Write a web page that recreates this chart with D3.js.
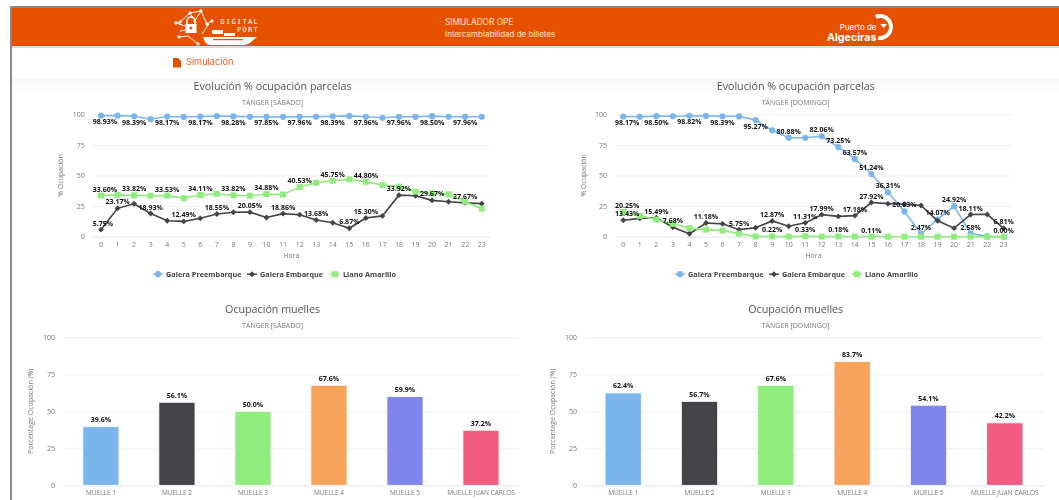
<!DOCTYPE html>
<html>
<head>
<meta charset="utf-8">
<script src="https://cdn.jsdelivr.net/npm/d3@7/dist/d3.min.js"></script>
<style>
  html, body { margin: 0; padding: 0; background: #fff; overflow: hidden; }
  svg { display: block; filter: blur(0.45px); }
  text { font-family: "Open Sans", sans-serif; }
</style>
</head>
<body>
<div id="chart"></div>
<script>
// =========================
// DATA
// =========================
const hours = d3.range(24).map(String);
const yTicks = [0, 25, 50, 75, 100];
const seriesNames = ["Galera Preembarque", "Galera Embarque", "Llano Amarillo"];
const muelles = ["MUELLE 1", "MUELLE 2", "MUELLE 3", "MUELLE 4", "MUELLE 5", "MUELLE JUAN CARLOS I"];

const satPreembarque = [98.93, 98.9, 98.39, 96.0, 98.17, 97.85, 98.17, 98.6, 98.28, 97.96, 97.85, 97.9, 97.96, 98.0, 98.39, 98.7, 97.96, 97.2, 97.96, 97.96, 98.5, 98.0, 97.96, 98.0];
const satEmbarque = [5.75, 23.17, 26.9, 18.93, 13.0, 12.49, 15.0, 18.55, 20.0, 20.05, 15.7, 18.86, 18.0, 13.68, 11.4, 6.87, 15.3, 17.0, 33.92, 33.5, 29.67, 28.6, 27.67, 27.0];
const satLlano = [33.6, 34.2, 33.82, 33.5, 33.53, 31.5, 34.11, 35.0, 33.82, 33.5, 34.88, 34.5, 40.53, 44.1, 45.75, 46.9, 44.8, 42.2, 40.9, 36.8, 35.4, 34.6, 28.6, 22.9];

const sunPreembarque = [98.17, 98.0, 98.5, 98.4, 98.82, 98.7, 98.39, 98.3, 95.27, 86.9, 80.88, 80.8, 82.06, 73.25, 63.57, 51.24, 36.31, 20.63, 2.47, 14.07, 24.92, 2.58, 0.3, 0.0];
const sunEmbarque = [13.43, 15.0, 15.49, 7.68, 2.4, 11.18, 10.5, 5.75, 7.3, 12.87, 8.5, 11.31, 17.99, 16.6, 17.18, 27.92, 27.0, 26.5, 25.5, 13.0, 7.0, 18.11, 18.2, 6.81];
const sunLlano = [20.25, 17.0, 14.0, 10.5, 7.0, 5.8, 5.0, 2.5, 0.2, 0.22, 0.1, 0.33, 0.1, 0.18, 0.1, 0.11, 0.0, 0.0, 0.0, 0.0, 0.0, 0.0, 0.0, 0.0];

// hours whose point label is shown (the rest were hidden by overlap in the original)
const satPreLabels = [0, 2, 4, 6, 8, 10, 12, 14, 16, 18, 20, 22];
const satEmbLabels = [0, 1, 3, 5, 7, 9, 11, 13, 15, 16, 18, 20, 22];
const satLlaLabels = [0, 2, 4, 6, 8, 10, 12, 14, 16];
const sunPreLabels = [0, 2, 4, 6, 8, 10, 12, 13, 14, 15, 16, 17, 18, 19, 20, 21];
const sunEmbLabels = [0, 2, 3, 5, 7, 9, 11, 12, 14, 15, 21, 23];
const sunLlaLabels = [0, 9, 11, 13, 15, 23];

const satMuelles = [39.6, 56.1, 50.0, 67.6, 59.9, 37.2];
const sunMuelles = [62.4, 56.7, 67.6, 83.7, 54.1, 42.2];

const lineColors = ["#7cb5ec", "#434348", "#90ed7d"];
const barColors = ["#7cb5ec", "#434348", "#90ed7d", "#f7a35c", "#8085e9", "#f15c80"];
const orange = "#e65100";

// =========================
// PAGE
// =========================
const width = 1059, height = 500;

const svg = d3.select("#chart").append("svg")
    .attr("width", width)
    .attr("height", height);

const defs = svg.append("defs");
const fade = defs.append("linearGradient")
    .attr("id", "fade").attr("x1", 0).attr("x2", 0).attr("y1", 0).attr("y2", 1);
fade.append("stop").attr("offset", 0).attr("stop-color", "#f6f6f6");
fade.append("stop").attr("offset", 1).attr("stop-color", "#ffffff");

svg.append("rect").attr("x", 10).attr("y", 78).attr("width", width).attr("height", 14).attr("fill", "url(#fade)");
svg.append("rect").attr("x", 10).attr("y", 6).attr("width", width).attr("height", 2).attr("fill", "#8a8a8a");
svg.append("rect").attr("x", 10).attr("y", 6).attr("width", 2).attr("height", height).attr("fill", "#8a8a8a");
svg.append("rect").attr("x", 12).attr("y", 46).attr("width", width).attr("height", 2).attr("fill", "#dcdcdc");
svg.append("rect").attr("x", 12).attr("y", 8).attr("width", width).attr("height", 38).attr("fill", orange);

function drawHeader() {
    const head = svg.append("g");

    // port logo, rough shapes only
    const mark = head.append("g").attr("transform", "translate(4,0)");
    const logo = mark.append("g")
        .attr("stroke", "#fff").attr("fill", "none").attr("stroke-width", 1);
    [
        "M176 22 L186 13 L197 11 L203 24",
        "M172 23 L181 26 M176 31 L182 30 M175 37 L184 36",
        "M186 13 L192 23 M197 11 L190 22 M203 24 L208 21",
        "M184 36 L194 44 M198 34 L205 24"
    ].forEach(d => logo.append("path").attr("d", d));
    logo.selectAll("circle.node")
        .data([[176, 22], [186, 13], [197, 11], [203, 24], [172, 23], [175, 37], [208, 21], [194, 44]])
        .enter().append("circle")
        .attr("cx", d => d[0]).attr("cy", d => d[1]).attr("r", 1.2).attr("fill", "#fff");
    mark.append("path").attr("d", "M183 24 v-3 a4 4 0 0 1 8 0 v3")
        .attr("fill", "none").attr("stroke", "#fff").attr("stroke-width", 1.5);
    mark.append("rect").attr("x", 181.5).attr("y", 24).attr("width", 11).attr("height", 9).attr("fill", "#fff");
    mark.append("circle").attr("cx", 187).attr("cy", 28).attr("r", 1.5).attr("fill", orange);
    mark.append("path").attr("d", "M199 37 H253 L246 43 Q243 45 239 45 H208 Q203 45 201 42 Z").attr("fill", "#fff");
    mark.append("rect").attr("x", 208).attr("y", 30).attr("width", 11).attr("height", 4).attr("fill", "#fff");
    mark.append("rect").attr("x", 220).attr("y", 33).attr("width", 11).attr("height", 3).attr("fill", "#fff");
    mark.append("rect").attr("x", 209).attr("y", 39).attr("width", 30).attr("height", 1.2).attr("fill", orange);

    head.append("text").attr("x", 259).attr("y", 24)
        .attr("text-anchor", "end").attr("fill", "#fff")
        .style("font-family", "'DejaVu Sans Mono', monospace").style("font-size", "7px").style("letter-spacing", "1.3px")
        .text("DIGITAL");
    head.append("text").attr("x", 259).attr("y", 32)
        .attr("text-anchor", "end").attr("fill", "#fff")
        .style("font-family", "'DejaVu Sans Mono', monospace").style("font-size", "7px").style("letter-spacing", "1.3px")
        .text("PORT");

    head.append("text").attr("x", 445).attr("y", 25)
        .attr("fill", "#ffe3d2").style("font-family", "Inter, sans-serif").style("font-size", "8.3px")
        .text("SIMULADOR OPE");
    head.append("text").attr("x", 445).attr("y", 37)
        .attr("fill", "#ffe3d2").style("font-family", "Inter, sans-serif").style("font-size", "8px")
        .text("Intercambiabilidad de billetes");

    // Puerto de Algeciras
    head.append("text").attr("x", 876.5).attr("y", 30)
        .attr("text-anchor", "end").attr("fill", "#fff")
        .style("font-family", "Inter, sans-serif").style("font-size", "8px")
        .text("Puerto de");
    head.append("text").attr("x", 876.5).attr("y", 41)
        .attr("text-anchor", "end").attr("fill", "#fff")
        .style("font-family", "Inter, sans-serif").style("font-size", "10.7px").style("font-weight", "bold")
        .text("Algeciras");
    head.append("path")
        .attr("d", d3.arc().innerRadius(9).outerRadius(13).startAngle(-0.4).endAngle(3.3)())
        .attr("transform", "translate(880,27)").attr("fill", "#fff");
    head.append("path").attr("d", "M880 24 L887 24 L884 28 Z").attr("fill", "#fff");

    // Simulación tab
    head.append("path").attr("d", "M173 58 H178 L181 61 V67.5 H173 Z").attr("fill", orange);
    head.append("text").attr("x", 186).attr("y", 65)
        .attr("fill", "#e8622a").style("font-family", "Inter, sans-serif").style("font-size", "9.2px")
        .text("Simulación");
}

function chartTitles(cx, titleY, title, subtitle) {
    svg.append("text").attr("x", cx).attr("y", titleY)
        .attr("text-anchor", "middle").attr("fill", "#555")
        .style("font-size", "10.7px")
        .text(title);
    svg.append("text").attr("x", cx).attr("y", titleY + 15)
        .attr("text-anchor", "middle").attr("fill", "#777")
        .style("font-size", "7px")
        .text(subtitle);
}

function drawYAxis(y, left, right, labelX, titleX, title) {
    const axis = svg.append("g").attr("transform", `translate(${left},0)`)
        .call(d3.axisLeft(y).tickValues(yTicks).tickSize(left - right));
    axis.select(".domain").remove();
    axis.selectAll(".tick line").attr("stroke", d => d === 0 ? "#dfe5f2" : "#f1f1f1");
    axis.selectAll(".tick text")
        .attr("x", labelX - left)
        .attr("fill", "#777")
        .style("font-family", "'Open Sans', sans-serif")
        .style("font-size", "7px");

    svg.append("text")
        .attr("transform", `translate(${titleX},${(y(0) + y(100)) / 2}) rotate(-90)`)
        .attr("text-anchor", "middle").attr("fill", "#777")
        .style("font-size", "7px")
        .text(title);
}

// =========================
// LINE CHART
// =========================
function drawLines(opts) {
    const { left, right, top, bottom, values, labels } = opts;

    const x = d3.scaleBand().domain(hours).range([left, right]);
    const y = d3.scaleLinear().domain([0, 100]).range([bottom, top]);
    const px = h => x(String(h)) + x.bandwidth() / 2;

    chartTitles(opts.cx, 90, "Evolución % ocupación parcelas", opts.subtitle);
    drawYAxis(y, left, right, left - 8, left - 29.5, "% Ocupación");

    const xAxis = svg.append("g").attr("transform", `translate(0,${bottom})`)
        .call(d3.axisBottom(x).tickSize(0).tickPadding(5.5));
    xAxis.select(".domain").remove();
    xAxis.selectAll(".tick text")
        .attr("fill", "#777")
        .style("font-family", "'Open Sans', sans-serif")
        .style("font-size", "7px");

    svg.append("text").attr("x", (left + right) / 2).attr("y", bottom + 21)
        .attr("text-anchor", "middle").attr("fill", "#777")
        .style("font-size", "7px")
        .text("Hora");

    const line = d3.line().x((d, i) => px(i)).y(d => y(d));
    const symbols = [d3.symbolCircle, d3.symbolDiamond2, d3.symbolSquare];
    const sizes = [30, 22, 36];

    values.forEach((vals, s) => {
        svg.append("path").attr("d", line(vals))
            .attr("fill", "none").attr("stroke", lineColors[s]).attr("stroke-width", 1.6);
        svg.append("g").selectAll("path")
            .data(vals)
            .enter().append("path")
            .attr("d", d3.symbol().type(symbols[s]).size(sizes[s]))
            .attr("transform", (d, i) => `translate(${px(i)},${y(d)})`)
            .attr("fill", lineColors[s]);
    });

    values.forEach((vals, s) => {
        labels[s].forEach(h => {
            const v = vals[h];
            const t = svg.append("text")
                .attr("y", y(v) + (v > 95 ? 8.5 : -4))
                .attr("text-anchor", "middle").attr("fill", "#111")
                .style("font-size", "7px").style("font-weight", "bold")
                .text(v.toFixed(2) + "%");
            // labels stay inside the plot, as in the original
            const half = t.node().getComputedTextLength() / 2;
            t.attr("x", Math.min(Math.max(px(h), left + half), right + 3 - half));
        });
    });

    // legend
    seriesNames.forEach((name, s) => {
        const lx = opts.legendX[s];
        const ly = bottom + 37.5;
        svg.append("line")
            .attr("x1", lx - 5).attr("x2", lx + 5).attr("y1", ly).attr("y2", ly)
            .attr("stroke", lineColors[s]).attr("stroke-width", 1.4);
        svg.append("path")
            .attr("d", d3.symbol().type(symbols[s]).size(sizes[s]))
            .attr("transform", `translate(${lx},${ly})`)
            .attr("fill", lineColors[s]);
        svg.append("text").attr("x", lx + 8).attr("y", ly + 2.6)
            .attr("fill", "#444")
            .style("font-size", "7.3px").style("font-weight", "bold")
            .text(name);
    });
}

// =========================
// BAR CHART
// =========================
function drawBars(opts) {
    const { left, right, top, bottom, values } = opts;

    const x = d3.scaleBand().domain(muelles).range([left, right])
        .paddingInner(0.525).paddingOuter(0.2625);
    const y = d3.scaleLinear().domain([0, 100]).range([bottom, top]);

    chartTitles(opts.cx, 313, "Ocupación muelles", opts.subtitle);
    drawYAxis(y, left, right, left - 8, left - 30, "Porcentage Ocupación (%)");

    svg.append("g").selectAll("rect")
        .data(values)
        .enter().append("rect")
        .attr("x", (d, i) => x(muelles[i]))
        .attr("y", d => y(d))
        .attr("width", x.bandwidth())
        .attr("height", d => bottom - y(d))
        .attr("fill", (d, i) => barColors[i])
        .attr("stroke", "#fff").attr("stroke-width", 0.8);

    svg.append("g").selectAll("text")
        .data(values)
        .enter().append("text")
        .attr("x", (d, i) => x(muelles[i]) + x.bandwidth() / 2)
        .attr("y", d => y(d) - 4.5)
        .attr("text-anchor", "middle").attr("fill", "#111")
        .style("font-size", "7px").style("font-weight", "bold")
        .text(d => d.toFixed(1) + "%");

    const xAxis = svg.append("g").attr("transform", `translate(0,${bottom})`)
        .call(d3.axisBottom(x).tickSize(0).tickPadding(10).tickFormat(() => ""));
    xAxis.select(".domain").remove();
    xAxis.selectAll(".tick text").each(function (d) {
        // long name wraps on two lines, the second one runs off the page
        const t = d3.select(this)
            .attr("fill", "#777")
            .style("font-family", "'Open Sans', sans-serif")
            .style("font-size", "6.5px");
        const words = d.split(" ");
        const first = words.length > 3 ? words.slice(0, 3).join(" ") : d;
        t.append("tspan").attr("x", 0).attr("dy", 0).text(first);
        if (words.length > 3) t.append("tspan").attr("x", 0).attr("dy", 9.5).text(words.slice(3).join(" "));
    });
}

// =========================
// DRAW
// =========================
drawHeader();

drawLines({
    left: 92.7, right: 490, top: 114.3, bottom: 236.7, cx: 272.6,
    subtitle: "TÁNGER [SÁBADO]",
    values: [satPreembarque, satEmbarque, satLlano],
    labels: [satPreLabels, satEmbLabels, satLlaLabels],
    legendX: [158, 252, 335]
});

drawLines({
    left: 615, right: 1012, top: 114.3, bottom: 236.7, cx: 795.7,
    subtitle: "TÁNGER [DOMINGO]",
    values: [sunPreembarque, sunEmbarque, sunLlano],
    labels: [sunPreLabels, sunEmbLabels, sunLlaLabels],
    legendX: [680, 774, 857]
});

drawBars({
    left: 62.9, right: 519, top: 337.3, bottom: 485.3, cx: 272.6,
    subtitle: "TÁNGER [SÁBADO]",
    values: satMuelles
});

drawBars({
    left: 585, right: 1043, top: 337.3, bottom: 485.3, cx: 795.7,
    subtitle: "TÁNGER [DOMINGO]",
    values: sunMuelles
});
</script>
</body>
</html>
